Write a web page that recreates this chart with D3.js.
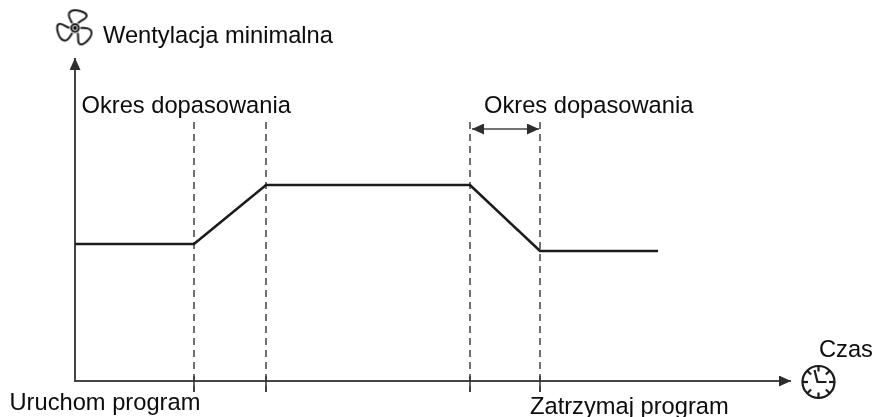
<!DOCTYPE html>
<html>
<head>
<meta charset="utf-8">
<script src="https://d3js.org/d3.v7.min.js"></script>
<style>
  html, body { margin: 0; padding: 0; background: #fff; }
  text { font-family: "Liberation Sans", Arial, sans-serif; font-size: 23.7px; fill: #0a0a0a; }
</style>
</head>
<body>
<div id="my_dataviz"></div>
<script>
// values (time and ventilation in arbitrary units)
var lineTime = [0, 119, 191, 395, 465, 583];
var lineVentilation = [137, 137, 196, 196, 130, 130];
var startMarks = [119, 191];
var stopMarks = [395, 465];
var yLabel = "Wentylacja minimalna";
var xLabel = "Czas";
var periodLabel = "Okres dopasowania";
var startLabel = "Uruchom program";
var stopLabel = "Zatrzymaj program";

var width = 874, height = 417;

var root = d3.select("#my_dataviz")
  .append("svg")
    .attr("width", width)
    .attr("height", height)
    .style("display", "block");

var x = d3.scaleLinear().domain([0, 716]).range([75, 791]);
var y = d3.scaleLinear().domain([0, 323]).range([381, 58]);

var defs = root.append("defs");

// the reference is a slightly soft scan
defs.append("filter")
    .attr("id", "soft")
    .attr("x", 0).attr("y", 0).attr("width", "100%").attr("height", "100%")
    .attr("filterUnits", "userSpaceOnUse")
  .append("feGaussianBlur")
    .attr("stdDeviation", 0.4);

// arrow heads
defs.append("marker")
    .attr("id", "head")
    .attr("viewBox", "0 0 12 11")
    .attr("refX", 12).attr("refY", 5.5)
    .attr("markerWidth", 12).attr("markerHeight", 11)
    .attr("markerUnits", "userSpaceOnUse")
    .attr("orient", "auto-start-reverse")
  .append("path")
    .attr("d", "M0,0L12,5.5L0,11Z")
    .attr("fill", "#2e2e2e");

var svg = root.append("g").attr("filter", "url(#soft)");

// axes
svg.append("line")
    .attr("x1", x(0)).attr("y1", y(0))
    .attr("x2", x(0)).attr("y2", y(323))
    .attr("stroke", "#444").attr("stroke-width", 2)
    .attr("marker-end", "url(#head)");
svg.append("line")
    .attr("x1", x(0) - 1).attr("y1", y(0))
    .attr("x2", x(716)).attr("y2", y(0))
    .attr("stroke", "#444").attr("stroke-width", 2)
    .attr("marker-end", "url(#head)");

// dashed guides
svg.append("g")
  .selectAll("line")
  .data(startMarks.concat(stopMarks))
  .enter()
  .append("line")
    .attr("x1", function(d) { return x(d); })
    .attr("x2", function(d) { return x(d); })
    .attr("y1", y(259))
    .attr("y2", y(-11))
    .attr("stroke", "#333")
    .attr("stroke-width", 1.4)
    .attr("stroke-dasharray", "7,5");

// solid ticks on the time axis
svg.append("g")
  .selectAll("line")
  .data(startMarks.concat(stopMarks))
  .enter()
  .append("line")
    .attr("x1", function(d) { return x(d); })
    .attr("x2", function(d) { return x(d); })
    .attr("y1", y(5))
    .attr("y2", y(-11))
    .attr("stroke", "#333")
    .attr("stroke-width", 1.5);

// ventilation line
var line = d3.line()
  .x(function(d) { return x(d[0]); })
  .y(function(d) { return y(d[1]); });

svg.append("path")
    .datum(d3.zip(lineTime, lineVentilation))
    .attr("d", line)
    .attr("fill", "none")
    .attr("stroke", "#1a1a1a")
    .attr("stroke-width", 2.6);

// double arrow of the second period
svg.append("line")
    .attr("x1", x(stopMarks[0]) + 2).attr("y1", 129)
    .attr("x2", x(stopMarks[1]) - 1).attr("y2", 129)
    .attr("stroke", "#444").attr("stroke-width", 1.6)
    .attr("marker-start", "url(#head)")
    .attr("marker-end", "url(#head)");

// labels
svg.append("text").attr("x", 103).attr("y", 42.5).text(yLabel);
svg.append("text").attr("x", 81.5).attr("y", 113).text(periodLabel);
svg.append("text").attr("x", 484).attr("y", 112.5).text(periodLabel);
svg.append("text").attr("x", 9.5).attr("y", 410).text(startLabel);
svg.append("text").attr("x", 530).attr("y", 413.5).text(stopLabel);
svg.append("text").attr("x", 819).attr("y", 357).text(xLabel);

// fan icon
var fan = svg.append("g").attr("transform", "translate(75,28) scale(0.95)")
    .attr("fill", "none").attr("stroke", "#1a1a1a").attr("stroke-width", 2.1);
fan.selectAll("path")
  .data([0, 120, 240])
  .enter()
  .append("path")
    .attr("transform", function(d) { return "rotate(" + d + ")"; })
    .attr("d", "M-3,-5C-5,-9 -8,-13 -6,-16C-4,-19 1,-19 5,-18C9,-17 13,-15 12,-12C11,-9 6,-8 3,-5");
fan.append("circle").attr("r", 4);
fan.append("circle").attr("r", 1.1).attr("fill", "#1a1a1a");

// clock icon
var clock = svg.append("g").attr("transform", "translate(818.5,382)")
    .attr("fill", "none").attr("stroke", "#1a1a1a").attr("stroke-width", 2.2);
clock.append("circle").attr("r", 16);
clock.selectAll("line")
  .data(d3.range(0, 360, 45))
  .enter()
  .append("line")
    .attr("transform", function(d) { return "rotate(" + d + ")"; })
    .attr("y1", -15.5).attr("y2", -10.5);
clock.append("path").attr("d", "M-4,-12L-1,0L8,0");
</script>
</body>
</html>
